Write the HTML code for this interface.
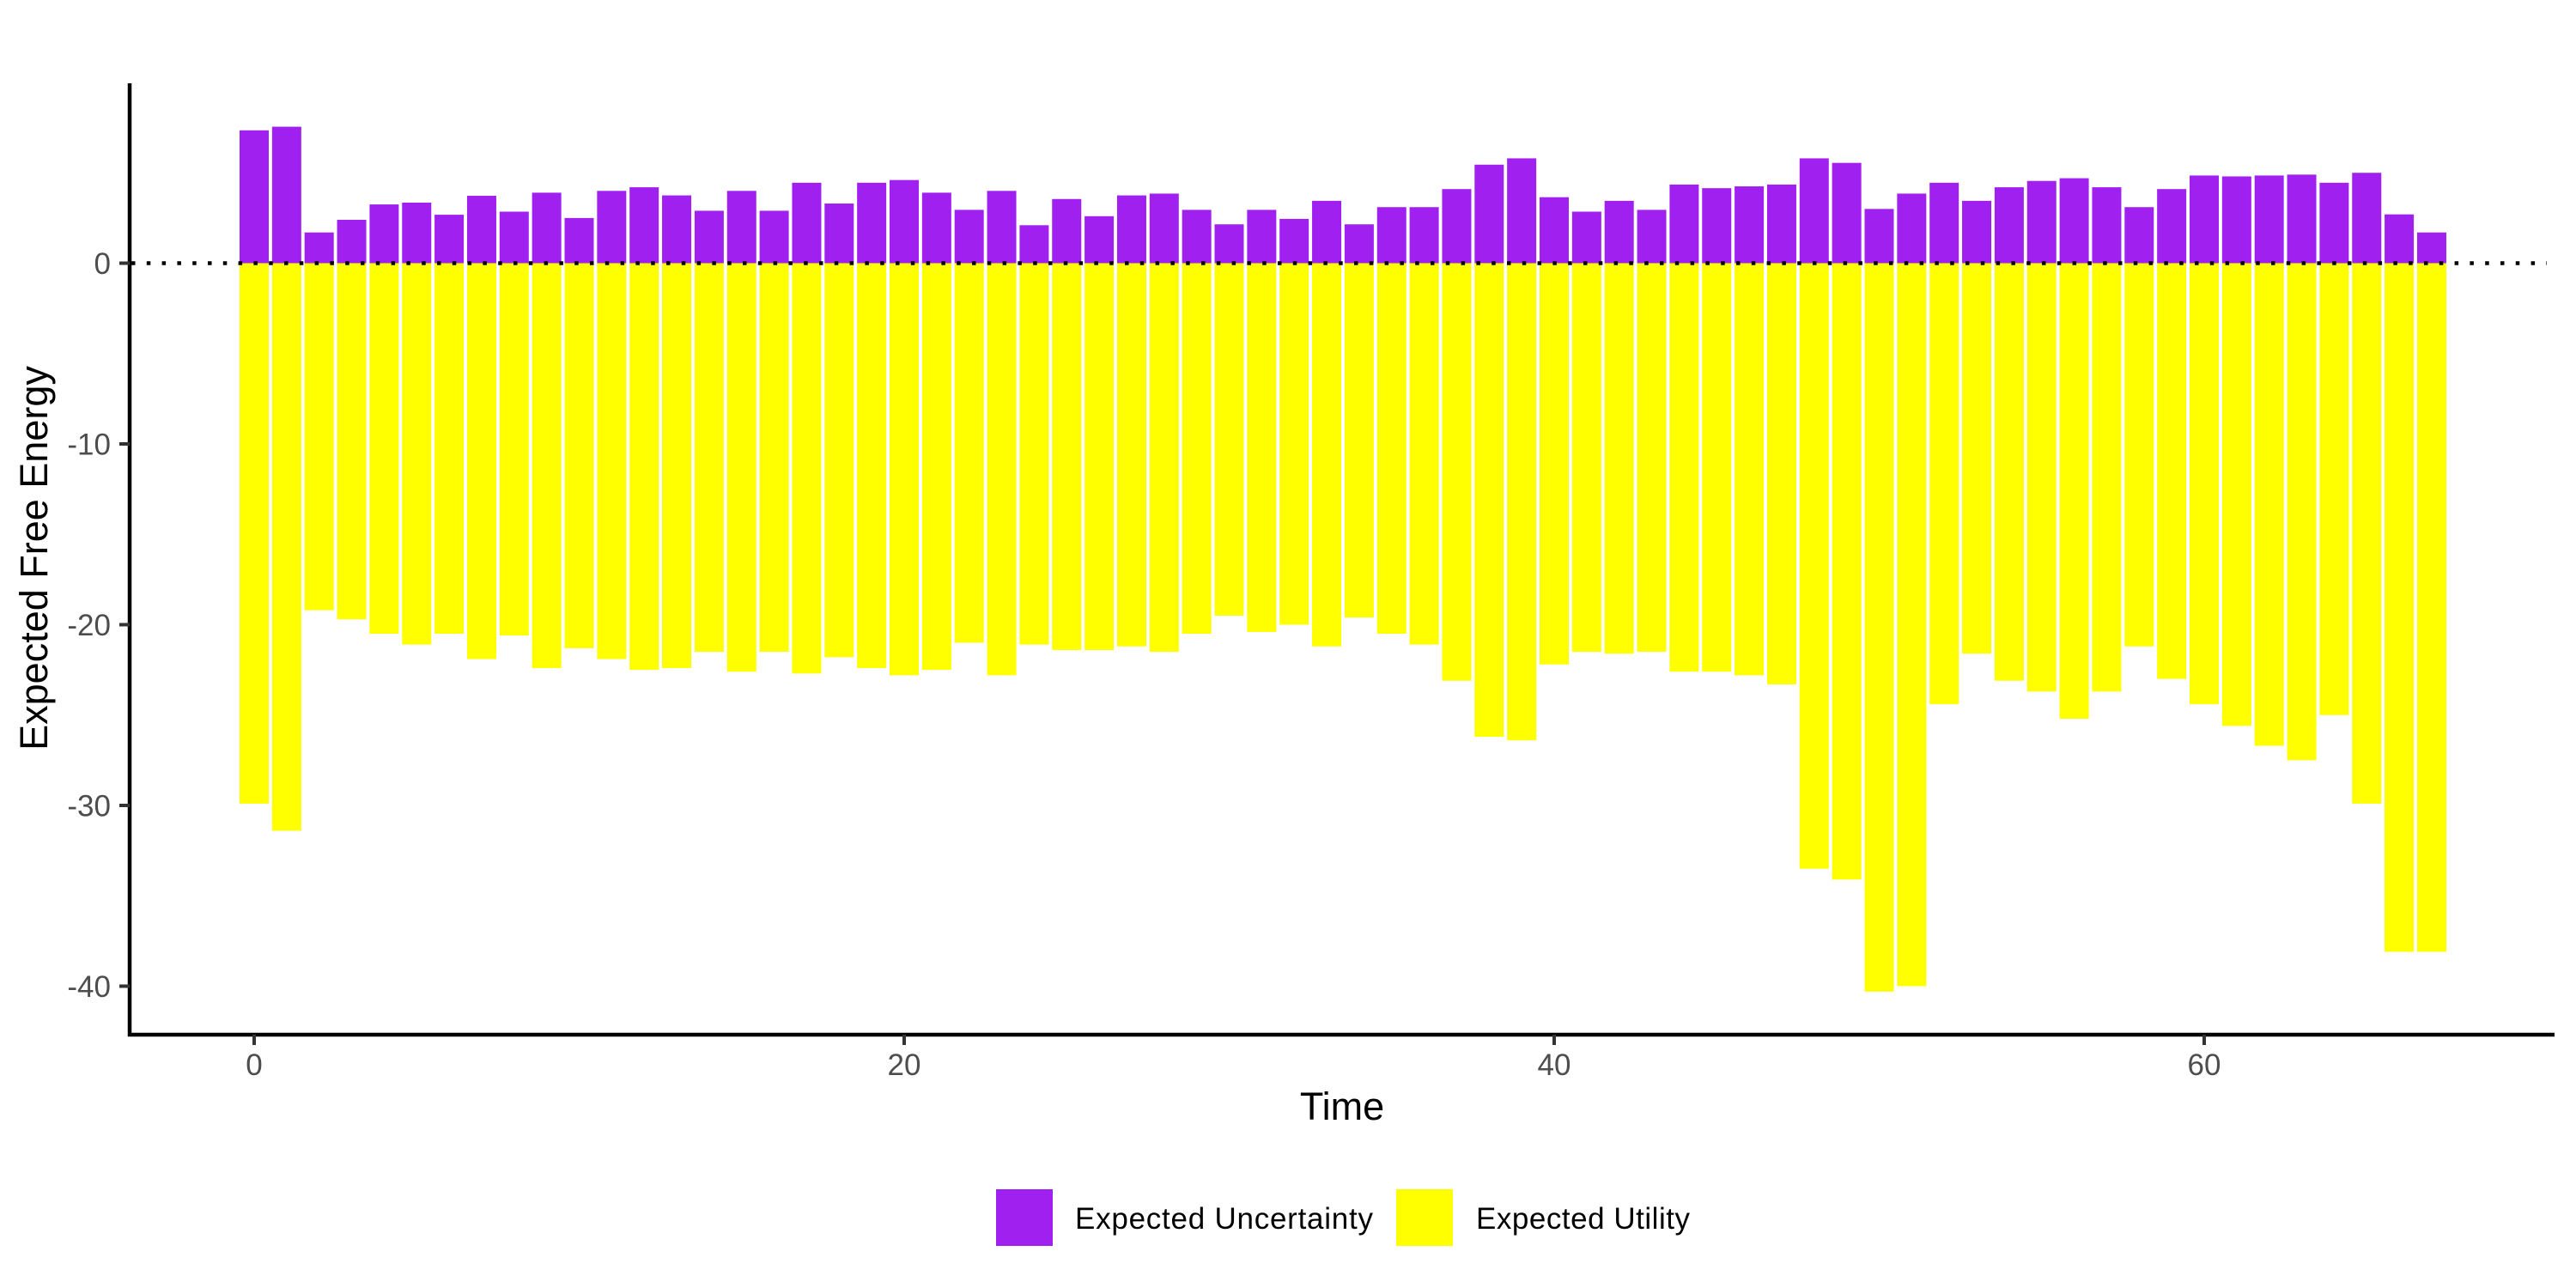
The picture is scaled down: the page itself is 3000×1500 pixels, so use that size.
<!DOCTYPE html>
<html><head><meta charset="utf-8"><style>
html,body{margin:0;padding:0;background:#fff;}
svg{display:block;font-family:"Liberation Sans",Arial,sans-serif;}
</style></head><body>
<svg id="chart" width="3000" height="1500" viewBox="0 0 3000 1500" xmlns="http://www.w3.org/2000/svg">
<rect width="3000" height="1500" fill="#fff"/>
<g id="bars"></g>
<line x1="153" y1="306.5" x2="2966" y2="306.5" stroke="#000" stroke-width="4.5" stroke-dasharray="4.5 13.3"/>
<g id="axes"></g>
<text x="1563" y="1304" font-size="45" text-anchor="middle" fill="#000">Time</text>
<text transform="translate(55,650) rotate(-90)" font-size="45" text-anchor="middle" fill="#000">Expected Free Energy</text>
<g>
<rect x="1160" y="1385" width="66" height="66" fill="#A020F0"/>
<text x="1252" y="1431" font-size="35" textLength="347" fill="#000">Expected Uncertainty</text>
<rect x="1626" y="1385" width="66" height="66" fill="#FFFF00"/>
<text x="1719" y="1431" font-size="35" textLength="249" fill="#000">Expected Utility</text>
</g>
</svg>
<script>
const times = Array.from({length:68},(_, i)=>i);
const uncertainty = [7.35,7.55,1.7,2.4,3.25,3.35,2.68,3.73,2.85,3.9,2.5,4.0,4.2,3.75,2.9,4.0,2.9,4.45,3.3,4.45,4.6,3.9,2.95,4.0,2.1,3.55,2.6,3.75,3.85,2.95,2.15,2.95,2.45,3.45,2.15,3.1,3.1,4.1,5.45,5.8,3.65,2.85,3.45,2.95,4.35,4.15,4.25,4.35,5.8,5.55,3.0,3.85,4.45,3.45,4.2,4.55,4.7,4.2,3.1,4.1,4.85,4.8,4.85,4.9,4.45,5.0,2.7,1.7];
const utility = [-29.9,-31.4,-19.2,-19.7,-20.5,-21.1,-20.5,-21.9,-20.6,-22.4,-21.3,-21.9,-22.5,-22.4,-21.5,-22.6,-21.5,-22.7,-21.8,-22.4,-22.8,-22.5,-21.0,-22.8,-21.1,-21.4,-21.4,-21.2,-21.5,-20.5,-19.5,-20.4,-20.0,-21.2,-19.6,-20.5,-21.1,-23.1,-26.2,-26.4,-22.2,-21.5,-21.6,-21.5,-22.6,-22.6,-22.8,-23.3,-33.5,-34.1,-40.3,-40.0,-24.4,-21.6,-23.1,-23.7,-25.2,-23.7,-21.2,-23.0,-24.4,-25.6,-26.7,-27.5,-25.0,-29.9,-38.1,-38.1];
const xTicks = [0,20,40,60];
const yTicks = [0,-10,-20,-30,-40];

const NS='http://www.w3.org/2000/svg';
function xs(v){return 296 + v*37.85;}
function ys(v){return 306.5 - v*21.05;}
const bw = 34;
const bars=document.getElementById('bars');
function mk(tag,attrs,parent){const e=document.createElementNS(NS,tag);for(const k in attrs)e.setAttribute(k,attrs[k]);parent.appendChild(e);return e;}
times.forEach((t,i)=>{
  const u=uncertainty[i], y=utility[i];
  const r1=mk('rect',{x:xs(t)-bw/2,y:Math.min(ys(u),ys(0)),width:bw,height:Math.abs(ys(u)-ys(0)),fill:'#A020F0'},bars);
  
  
  const r2=mk('rect',{x:xs(t)-bw/2,y:Math.min(ys(y),ys(0)),width:bw,height:Math.abs(ys(y)-ys(0)),fill:'#FFFF00'},bars);
  
  
});
const axes=document.getElementById('axes');
const ya=mk('line',{x1:151,y1:97,x2:151,y2:1207,stroke:'#000','stroke-width':4.5},axes);


const xa=mk('line',{x1:149,y1:1205,x2:2975,y2:1205,stroke:'#000','stroke-width':4.5},axes);


yTicks.forEach(v=>{
  const tk=mk('line',{x1:139,y1:ys(v),x2:151,y2:ys(v),stroke:'#333','stroke-width':4},axes);
  
  
  const tx=mk('text',{x:129,y:ys(v)+12.5,'font-size':35,'text-anchor':'end',fill:'#4d4d4d'},axes);
  tx.textContent=v;
  
  
});
xTicks.forEach(v=>{
  const tk=mk('line',{x1:xs(v),y1:1205,x2:xs(v),y2:1217,stroke:'#333','stroke-width':4},axes);
  
  
  const tx=mk('text',{x:xs(v),y:1252,'font-size':35,'text-anchor':'middle',fill:'#4d4d4d'},axes);
  tx.textContent=v;
  
  
});
</script>
</body></html>
